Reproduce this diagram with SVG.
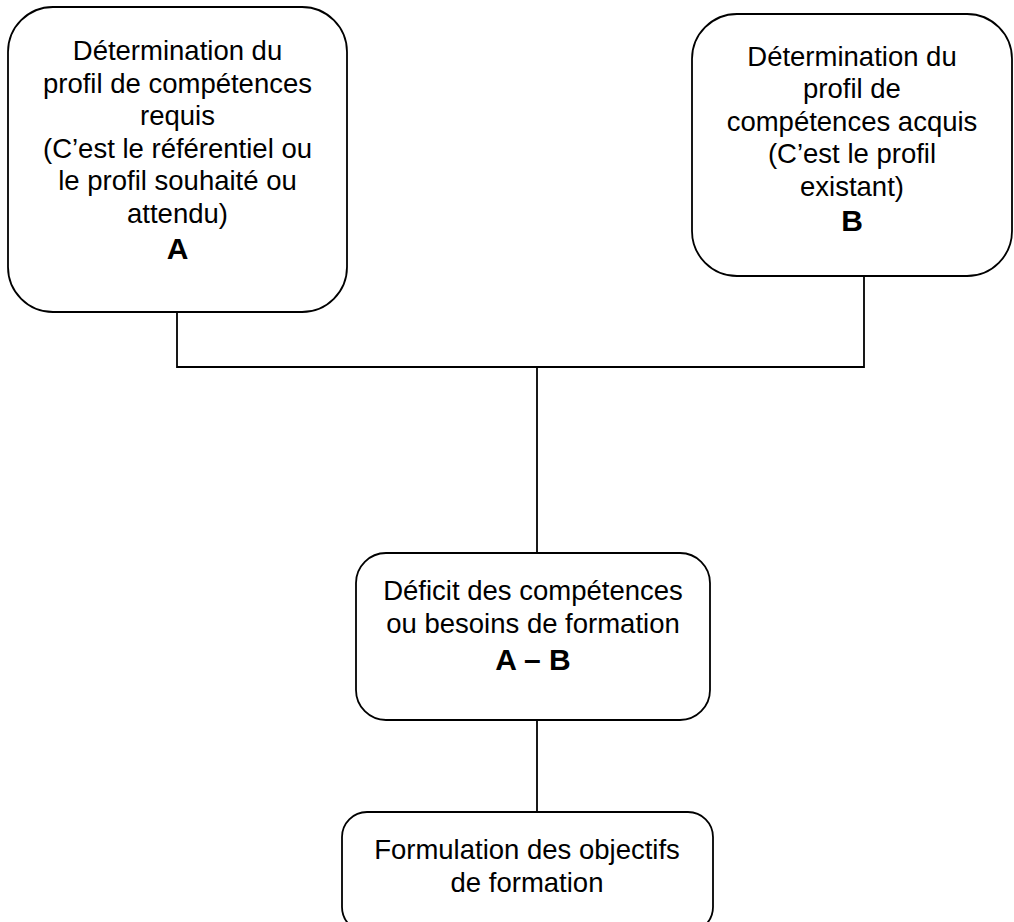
<svg xmlns="http://www.w3.org/2000/svg" width="1014" height="922" viewBox="0 0 1014 922">
<style>
.box{fill:#fff;stroke:#000;stroke-width:1.8}
.t{font-family:"Liberation Sans",Arial,sans-serif;font-size:27.5px;fill:#000;text-anchor:middle}
.b{font-weight:bold;font-size:30px}
.c{stroke:#000;stroke-width:1.8;fill:none}
</style>
<rect width="1014" height="922" fill="#fff"/>
<g id="connectors">
<polyline class="c" points="177,312 177,367 864,367 864,276"/>
<line class="c" x1="537" y1="367" x2="537" y2="553"/>
<line class="c" x1="537" y1="720" x2="537" y2="812"/>
</g>
<g id="nodeA">
<rect class="box" x="8" y="7" width="339" height="305" rx="45" ry="45"/>
<text class="t" x="177.5" y="60">Détermination du</text>
<text class="t" x="177.5" y="93">profil de compétences</text>
<text class="t" x="177.5" y="125">requis</text>
<text class="t" x="177.5" y="158">(C’est le référentiel ou</text>
<text class="t" x="177.5" y="190">le profil souhaité ou</text>
<text class="t" x="177.5" y="223">attendu)</text>
<text class="t b" x="177.5" y="259">A</text>
</g>
<g id="nodeB">
<rect class="box" x="692" y="14" width="320" height="262" rx="45" ry="45"/>
<text class="t" x="852" y="66">Détermination du</text>
<text class="t" x="852" y="98">profil de</text>
<text class="t" x="852" y="131">compétences acquis</text>
<text class="t" x="852" y="163">(C’est le profil</text>
<text class="t" x="852" y="196">existant)</text>
<text class="t b" x="852" y="231">B</text>
</g>
<g id="nodeC">
<rect class="box" x="356" y="553" width="354" height="167" rx="30" ry="30"/>
<text class="t" x="533" y="600">Déficit des compétences</text>
<text class="t" x="533" y="633">ou besoins de formation</text>
<text class="t b" x="533" y="670">A – B</text>
</g>
<g id="nodeD">
<rect class="box" x="342" y="812" width="371" height="120" rx="25" ry="25"/>
<text class="t" x="527" y="859">Formulation des objectifs</text>
<text class="t" x="527" y="892">de formation</text>
</g>
</svg>
